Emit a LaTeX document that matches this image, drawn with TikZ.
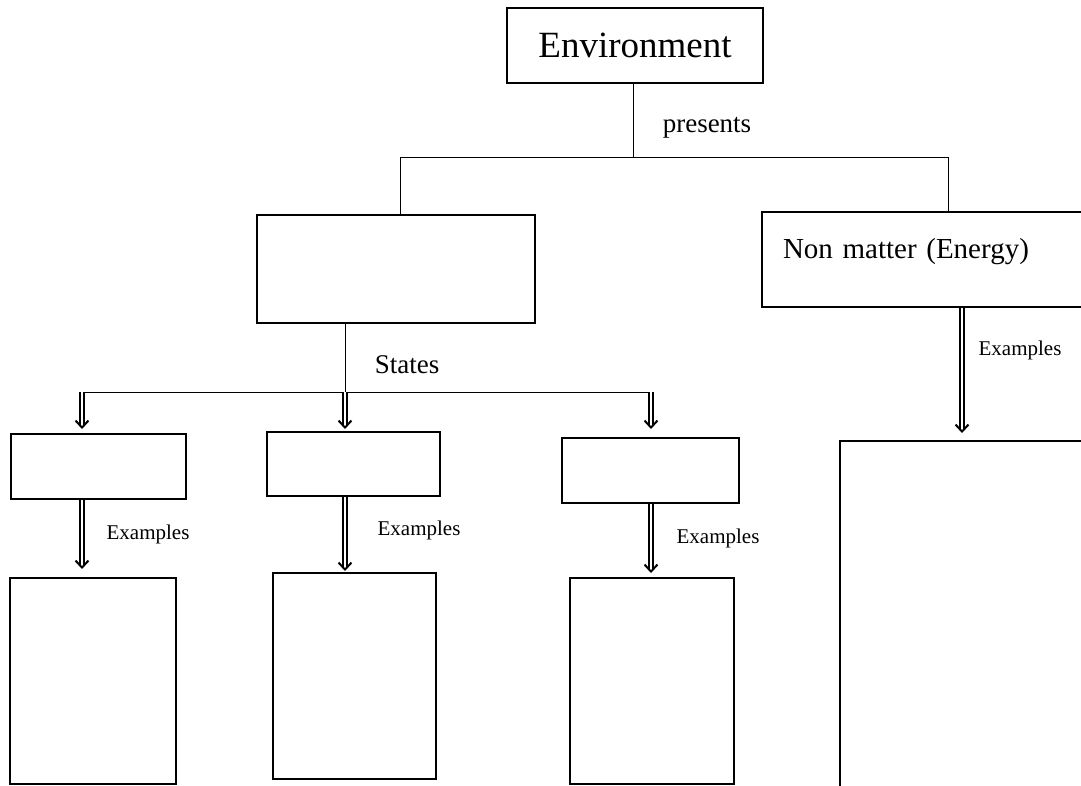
\documentclass[tikz,border=0pt]{standalone}
\usepackage{fontspec}
\setmainfont{Liberation Serif}
\usetikzlibrary{arrows.meta}

\begin{document}
\begin{tikzpicture}[x=1pt,y=-1pt]
  \tikzstyle{box} = [draw=black,line width=2.3pt,inner sep=0pt];
  \tikzstyle{link} = [draw=black,line width=1pt];
  \tikzstyle{dbl} = [draw=black,line width=1.6pt,double,double distance=2.2pt,shorten >=3pt];
  \tikzstyle{head} = [draw=black,line width=0.1pt,-{Straight Barb[length=7pt,width=13pt,line width=2pt]}];
  \tikzstyle{lbl} = [inner sep=0pt,font=\fontsize{21}{24}\selectfont];
  \useasboundingbox (0,0) rectangle (1081,785);

  % top level
  \node[box,minimum width=256pt,minimum height=75pt,font=\fontsize{37}{40}\selectfont] (env) at (635,45.5) {Environment};
  \node[box,minimum width=278pt,minimum height=108pt] (matter) at (396,269) {};
  \node[box,minimum width=338pt,minimum height=95pt,text width=296pt,inner xsep=21pt,align=left,
        text height=20pt,text depth=23pt,font=\fontsize{29}{32}\selectfont] (energy) at (931,259.5) {Non matter (Energy)};
  \coordinate (fork) at (633,157);
  \coordinate (left) at (400,157);
  \coordinate (right) at (948,157);
  \draw[link] (env.south -| fork) -- (fork);
  \draw[link] (matter.north -| left) -- (left) -- (right) -- (energy.north -| right);
  \node[inner sep=0pt,font=\fontsize{27}{30}\selectfont] (presents) at (707,128) {presents};

  % states
  \node[box,minimum width=175pt,minimum height=65pt] (s1) at (98.5,466.5) {};
  \node[box,minimum width=173pt,minimum height=64pt] (s2) at (353.5,464) {};
  \node[box,minimum width=177pt,minimum height=65pt] (s3) at (650.5,470.5) {};
  \coordinate (t1) at (82,392);
  \coordinate (t2) at (345,392);
  \coordinate (t3) at (651,392);
  \coordinate (a1) at (82,429);
  \coordinate (a2) at (345,429);
  \coordinate (a3) at (651,429);
  \draw[link] (matter.south -| t2) -- (t2);
  \draw[link] (t1) -- (t3);
  \draw[dbl] (t1) -- (a1);  \draw[head] (a1) ++(0,-1) -- (a1);
  \draw[dbl] (t2) -- (a2);  \draw[head] (a2) ++(0,-1) -- (a2);
  \draw[dbl] (t3) -- (a3);  \draw[head] (a3) ++(0,-1) -- (a3);
  \node[inner sep=0pt,font=\fontsize{27}{30}\selectfont] (states) at (407,365) {States};

  % examples
  \node[box,minimum width=166pt,minimum height=206pt] (e1) at (93,681) {};
  \node[box,minimum width=163pt,minimum height=206pt] (e2) at (354.5,676) {};
  \node[box,minimum width=164pt,minimum height=206pt] (e3) at (652,681) {};
  \node[box,minimum width=260pt,minimum height=359pt] (en) at (970,620.5) {};
  \coordinate (b1) at (82,569);
  \coordinate (b2) at (345,571);
  \coordinate (b3) at (651,573);
  \coordinate (b4) at (962,433);
  \draw[dbl] (s1.south -| b1) -- (b1);  \draw[head] (b1) ++(0,-1) -- (b1);
  \draw[dbl] (s2.south -| b2) -- (b2);  \draw[head] (b2) ++(0,-1) -- (b2);
  \draw[dbl] (s3.south -| b3) -- (b3);  \draw[head] (b3) ++(0,-1) -- (b3);
  \draw[dbl] (energy.south -| b4) -- (b4);  \draw[head] (b4) ++(0,-1) -- (b4);
  \node[lbl] (x1) at (148,534) {Examples};
  \node[lbl] (x2) at (419,530) {Examples};
  \node[lbl] (x3) at (718,538) {Examples};
  \node[lbl] (x4) at (1020,350) {Examples};
\end{tikzpicture}
\end{document}
